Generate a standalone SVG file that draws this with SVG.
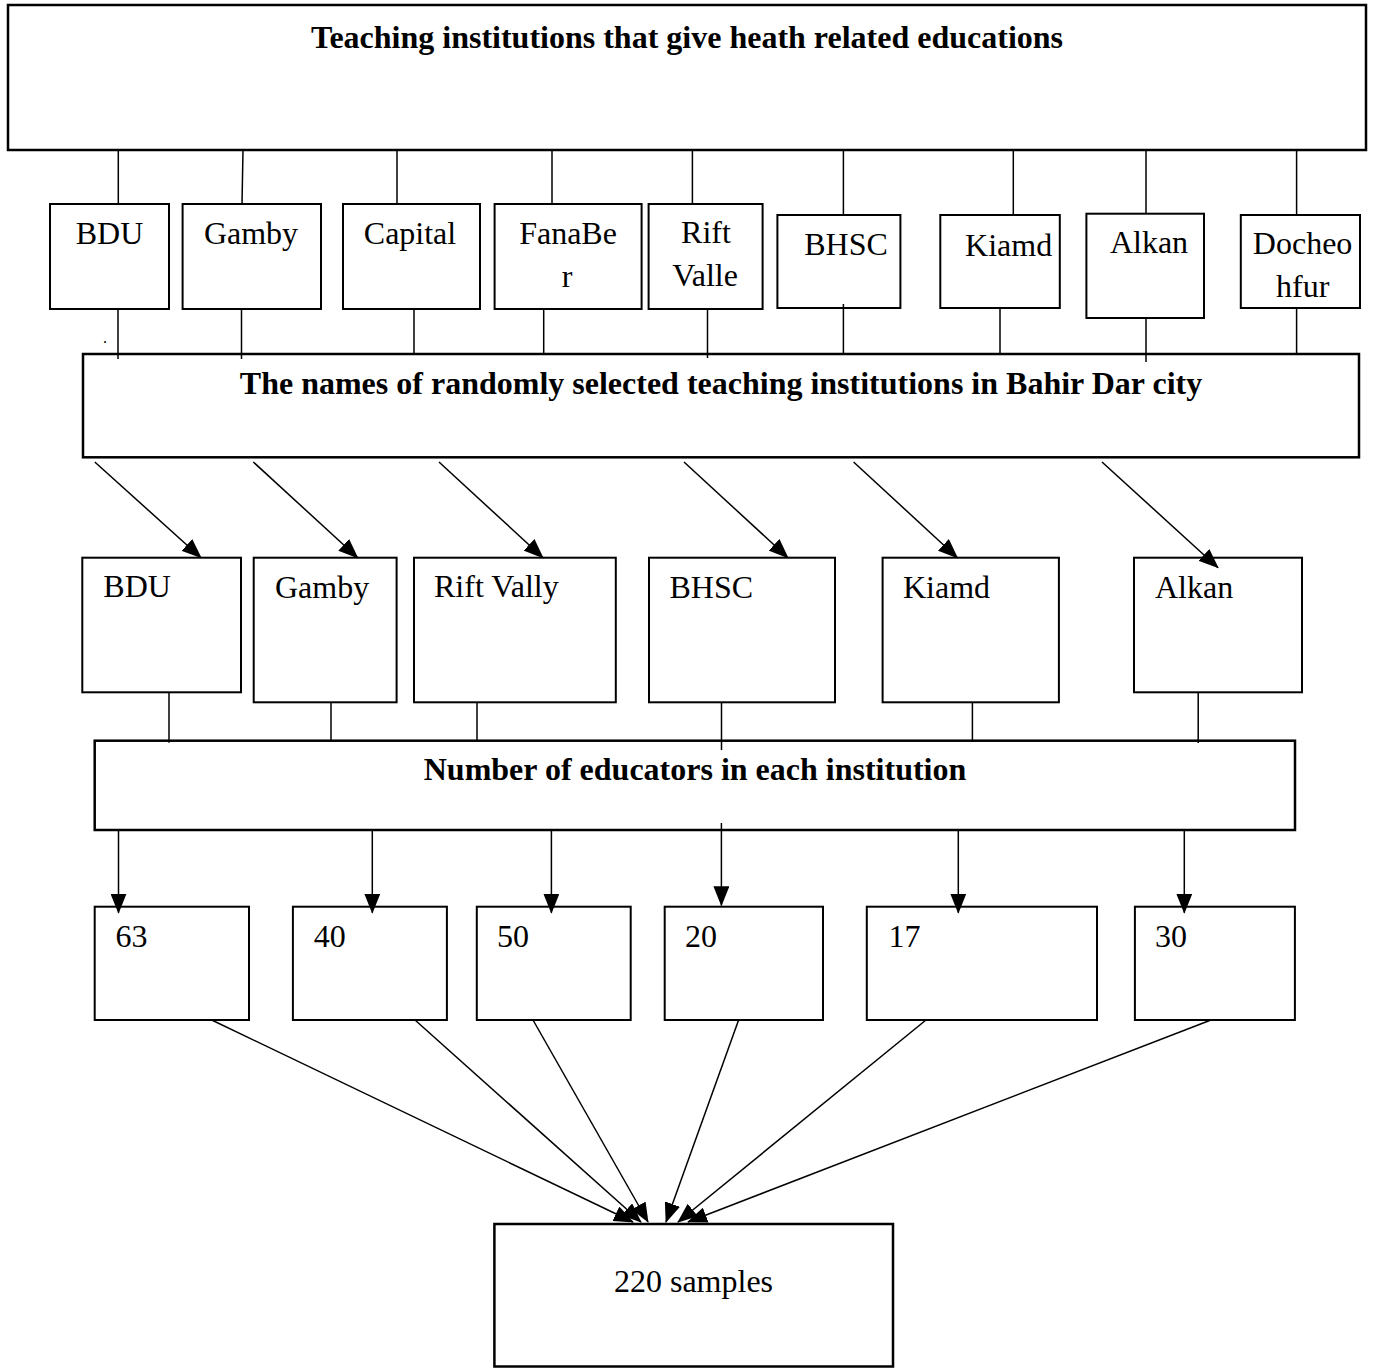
<svg xmlns="http://www.w3.org/2000/svg" width="1373" height="1368" viewBox="0 0 1373 1368">
<style>
.box{fill:#fff;stroke:#000;stroke-width:2}
.big{fill:#fff;stroke:#000;stroke-width:2.5}
.t{font-family:"Liberation Serif","Times New Roman",serif;font-size:32px;fill:#000}
.b{font-weight:bold}
.m{text-anchor:middle}
.ln{stroke:#000;stroke-width:1.5;fill:none}
.ar{stroke:#000;stroke-width:1.5;fill:none;marker-end:url(#ah)}
</style>
<defs>
<marker id="ah" markerUnits="userSpaceOnUse" viewBox="0 0 20 16" markerWidth="20" markerHeight="16" refX="19" refY="8" orient="auto">
<path d="M0,0 L20,8 L0,16 z" fill="#000"/>
</marker>
</defs>
<rect width="1373" height="1368" fill="#fff"/>
<g id="top"><rect class="big" x="8" y="5" width="1358" height="145"/><text class="t b m" x="687" y="47.7">Teaching institutions that give heath related educations</text></g>
<g id="r1-bdu"><rect class="box" x="50" y="204" width="119" height="105"/><text class="t m" x="109.5" y="244">BDU</text></g>
<g id="r1-gamby"><rect class="box" x="182.6" y="204" width="138.4" height="105"/><text class="t m" x="251" y="244">Gamby</text></g>
<g id="r1-capital"><rect class="box" x="343" y="204" width="137" height="105"/><text class="t m" x="410" y="244">Capital</text></g>
<g id="r1-fanaber"><rect class="box" x="494.6" y="204" width="147" height="105"/><text class="t m" x="568" y="244">FanaBe</text><text class="t m" x="567" y="286.7">r</text></g>
<g id="r1-rift"><rect class="box" x="648.6" y="204" width="114" height="105"/><text class="t m" x="706" y="243.3">Rift</text><text class="t m" x="705" y="286">Valle</text></g>
<g id="r1-bhsc"><rect class="box" x="777.4" y="215" width="123" height="93"/><text class="t m" x="846" y="255">BHSC</text></g>
<g id="r1-kiamd"><rect class="box" x="940.3" y="215" width="119.5" height="93"/><text class="t m" x="1008.6" y="256">Kiamd</text></g>
<g id="r1-alkan"><rect class="box" x="1086.4" y="213.7" width="117.6" height="104.3"/><text class="t m" x="1149" y="253">Alkan</text></g>
<g id="r1-docheo"><rect class="box" x="1240.8" y="215" width="119.2" height="93"/><text class="t m" x="1302.6" y="254.3">Docheo</text><text class="t m" x="1302.7" y="297">hfur</text></g>
<text class="t" x="103" y="343" style="font-size:16px">.</text>
<g id="names"><rect class="big" x="83" y="354" width="1276" height="103.3"/><text class="t b m" x="721" y="394">The names of randomly selected teaching institutions in Bahir Dar city</text></g>
<g id="r3-bdu"><rect class="box" x="82.3" y="557.7" width="158.7" height="134.6"/><text class="t" x="103.3" y="597">BDU</text></g>
<g id="r3-gamby"><rect class="box" x="253.7" y="557.7" width="142.9" height="144.6"/><text class="t" x="275" y="597.7">Gamby</text></g>
<g id="r3-rift"><rect class="box" x="414" y="557.7" width="201.8" height="144.6"/><text class="t" x="434" y="597">Rift Vally</text></g>
<g id="r3-bhsc"><rect class="box" x="649" y="557.7" width="186" height="144.6"/><text class="t" x="669.5" y="597.7">BHSC</text></g>
<g id="r3-kiamd"><rect class="box" x="882.6" y="557.7" width="176.3" height="144.6"/><text class="t" x="903" y="597.7">Kiamd</text></g>
<g id="r3-alkan"><rect class="box" x="1134" y="557.7" width="168" height="134.6"/><text class="t" x="1155" y="597.7">Alkan</text></g>
<g id="educators"><rect class="big" x="94.7" y="740.7" width="1200.3" height="89.3"/><text class="t b m" x="695" y="780">Number of educators in each institution</text></g>
<g id="n63"><rect class="box" x="94.7" y="906.7" width="154.3" height="113.3"/><text class="t" x="115.5" y="946.7">63</text></g>
<g id="n40"><rect class="box" x="292.9" y="906.7" width="154" height="113.3"/><text class="t" x="313.7" y="946.7">40</text></g>
<g id="n50"><rect class="box" x="476.8" y="906.7" width="153.9" height="113.3"/><text class="t" x="497" y="946.7">50</text></g>
<g id="n20"><rect class="box" x="664.7" y="906.7" width="158.3" height="113.3"/><text class="t" x="685" y="946.7">20</text></g>
<g id="n17"><rect class="box" x="866.8" y="906.7" width="230.2" height="113.3"/><text class="t" x="888.5" y="946.7">17</text></g>
<g id="n30"><rect class="box" x="1134.9" y="906.7" width="160" height="113.3"/><text class="t" x="1155" y="946.7">30</text></g>
<g id="samples"><rect class="big" x="494.4" y="1224" width="398.6" height="142.5"/><text class="t m" x="693.5" y="1291.7">220 samples</text></g>
<g id="connectors">
<line class="ln" x1="118.3" y1="150" x2="118.3" y2="204"/>
<line class="ln" x1="243" y1="150" x2="242" y2="204"/>
<line class="ln" x1="397" y1="150" x2="397" y2="204"/>
<line class="ln" x1="552" y1="150" x2="552" y2="204"/>
<line class="ln" x1="692.4" y1="150" x2="692.4" y2="204"/>
<line class="ln" x1="843.4" y1="150" x2="843.4" y2="215"/>
<line class="ln" x1="1013.3" y1="150" x2="1013.3" y2="215"/>
<line class="ln" x1="1146" y1="150" x2="1146" y2="213.7"/>
<line class="ln" x1="1296.6" y1="150" x2="1296.6" y2="215"/>
<line class="ln" x1="118" y1="309" x2="118" y2="359"/>
<line class="ln" x1="241.5" y1="309" x2="241.5" y2="359"/>
<line class="ln" x1="414" y1="309" x2="414" y2="355"/>
<line class="ln" x1="543.7" y1="309" x2="543.7" y2="355"/>
<line class="ln" x1="707.5" y1="309" x2="707.5" y2="358"/>
<line class="ln" x1="843.4" y1="304" x2="843.4" y2="355"/>
<line class="ln" x1="1000" y1="308" x2="1000" y2="355"/>
<line class="ln" x1="1146" y1="318" x2="1146" y2="362"/>
<line class="ln" x1="1296.6" y1="308" x2="1296.6" y2="355"/>
<line class="ar" x1="94.8" y1="462" x2="201" y2="557.7"/>
<line class="ar" x1="253.3" y1="462" x2="357.7" y2="557.7"/>
<line class="ar" x1="439" y1="462" x2="543" y2="557.7"/>
<line class="ar" x1="684" y1="462" x2="788" y2="557.7"/>
<line class="ar" x1="853.6" y1="462" x2="957.4" y2="557.7"/>
<line class="ar" x1="1102" y1="462" x2="1218" y2="567.7"/>
<line class="ln" x1="169" y1="692" x2="169" y2="742.7"/>
<line class="ln" x1="331" y1="702" x2="331" y2="742"/>
<line class="ln" x1="477" y1="702" x2="477" y2="742"/>
<line class="ln" x1="721.5" y1="702" x2="721.5" y2="750"/>
<line class="ln" x1="972.4" y1="702" x2="972.4" y2="742"/>
<line class="ln" x1="1198.2" y1="692" x2="1198.2" y2="743"/>
<line class="ar" x1="118.5" y1="830" x2="118.5" y2="912.7"/>
<line class="ar" x1="372.3" y1="830" x2="372.3" y2="912.7"/>
<line class="ar" x1="551.4" y1="830" x2="551.4" y2="912.7"/>
<line class="ar" x1="721.4" y1="823" x2="721.4" y2="905.3"/>
<line class="ar" x1="958.3" y1="830" x2="958.3" y2="912.7"/>
<line class="ar" x1="1184.3" y1="830" x2="1184.3" y2="912.7"/>
<line class="ar" x1="211.7" y1="1020" x2="633" y2="1222"/>
<line class="ar" x1="415" y1="1020" x2="641" y2="1222"/>
<line class="ar" x1="533" y1="1020" x2="648" y2="1222"/>
<line class="ar" x1="738.6" y1="1020" x2="666" y2="1222"/>
<line class="ar" x1="926" y1="1020" x2="678" y2="1222"/>
<line class="ar" x1="1211" y1="1020" x2="688" y2="1222"/>
</g>
</svg>
